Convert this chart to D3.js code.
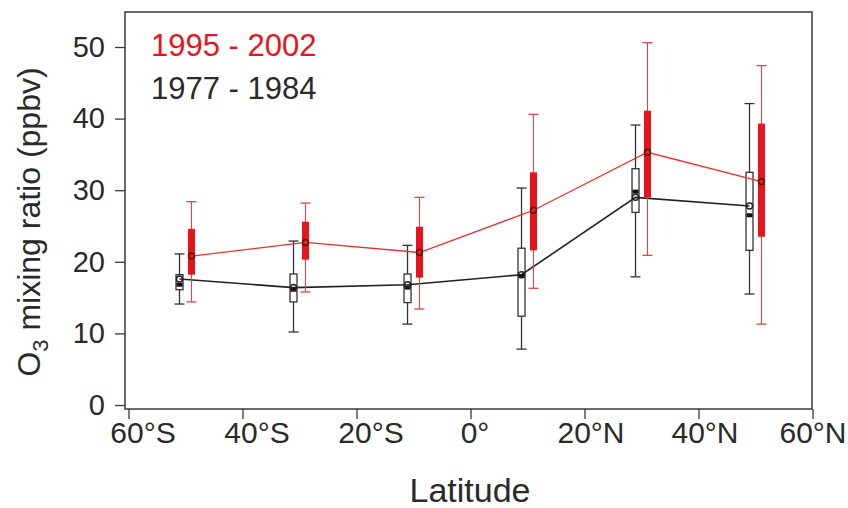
<!DOCTYPE html>
<html><head><meta charset="utf-8">
<script src="https://cdn.jsdelivr.net/npm/d3@7"></script>
<style>
html,body{margin:0;padding:0;background:#fff;}
svg{display:block;font-family:"Liberation Sans",Arial,sans-serif;}
</style></head>
<body><svg id="c" width="848" height="508"></svg>
<script>
// ---- data ----
const latitudes = [-50, -30, -10, 10, 30, 50];
const xTickValues = [-60, -40, -20, 0, 20, 40, 60];
const xTickLabels = ["60°S", "40°S", "20°S", "0°", "20°N", "40°N", "60°N"];
const yTickValues = [0, 10, 20, 30, 40, 50];
const seriesNames = ["1995 - 2002", "1977 - 1984"];

// 1977 - 1984 (black)
const oldMean   = [17.6, 16.4, 16.8, 18.2, 29.0, 27.8];
const oldMedian = [16.8, 16.1, 16.4, 18.0, 29.8, 26.5];
const oldQ1     = [16.1, 14.4, 14.3, 12.4, 26.9, 21.6];
const oldQ3     = [18.2, 18.3, 18.3, 21.9, 33.0, 32.5];
const oldMin    = [14.1, 10.2, 11.3,  7.8, 17.9, 15.5];
const oldMax    = [21.1, 22.9, 22.3, 30.3, 39.1, 42.1];

// 1995 - 2002 (red)
const newMean   = [20.8, 22.7, 21.3, 27.2, 35.3, 31.2];
const newQ1     = [18.2, 20.3, 17.8, 21.6, 29.0, 23.5];
const newQ3     = [24.6, 25.6, 24.9, 32.5, 41.1, 39.3];
const newMin    = [14.4, 15.8, 13.4, 16.3, 20.9, 11.3];
const newMax    = [28.4, 28.2, 29.0, 40.6, 50.6, 47.4];

// ---- layout ----
const svg = d3.select("#c");
const frame = {left: 125, right: 812, top: 12, bottom: 409};
const x = d3.scaleLinear().domain([-60, 60]).range([128.5, 812.5]);
const y = d3.scaleLinear().domain([0, 50]).range([405, 47]);
const off = 1.05; // degrees offset of each series from the group centre
const textCol = "#2a2a2a";
const red = "#e8141b";
const labelShift = [14, 14, 14, 4, 6, 6, 0];

// frame
svg.append("rect").attr("x", frame.left).attr("y", frame.top)
  .attr("width", frame.right - frame.left).attr("height", frame.bottom - frame.top)
  .attr("fill", "none").attr("stroke", "#3a3a3a").attr("stroke-width", 1.5);

// y axis
const yAxis = d3.axisLeft(y).tickValues(yTickValues).tickSize(10).tickPadding(10);
const gy = svg.append("g").attr("transform", `translate(${frame.left},0)`).call(yAxis);
gy.select(".domain").remove();
gy.selectAll("line").attr("stroke", "#3a3a3a").attr("stroke-width", 1.3);
gy.selectAll("text").attr("font-size", 29).attr("fill", textCol)
  .attr("font-family", "Liberation Sans, Arial, sans-serif");

// x axis
const xAxis = d3.axisBottom(x).tickValues(xTickValues)
  .tickFormat((d, i) => xTickLabels[i]).tickSize(10).tickPadding(3);
const gx = svg.append("g").attr("transform", `translate(0,${frame.bottom})`).call(xAxis);
gx.select(".domain").remove();
gx.selectAll("line").attr("stroke", "#3a3a3a").attr("stroke-width", 1.3);
gx.selectAll("text").attr("font-size", 30).attr("fill", textCol)
  .attr("font-family", "Liberation Sans, Arial, sans-serif")
  .attr("dx", (d, i) => labelShift[i]);

// axis titles
svg.append("text").attr("x", 470).attr("y", 502).attr("text-anchor", "middle")
  .attr("font-size", 34).attr("fill", textCol).text("Latitude");
const yl = svg.append("text").attr("transform", "translate(40,222) rotate(-90)")
  .attr("text-anchor", "middle").attr("font-size", 32).attr("fill", textCol);
yl.append("tspan").text("O");
yl.append("tspan").attr("font-size", 22).attr("dy", 8).text("3");
yl.append("tspan").attr("dy", -8).text(" mixing ratio (ppbv)");

// legend
svg.append("text").attr("x", 151).attr("y", 56).attr("font-size", 31)
  .attr("fill", red).text(seriesNames[0]);
svg.append("text").attr("x", 151).attr("y", 99).attr("font-size", 31)
  .attr("fill", textCol).text(seriesNames[1]);

const oldData = latitudes.map((lat, i) => ({lat: lat - off, mean: oldMean[i], med: oldMedian[i],
  q1: oldQ1[i], q3: oldQ3[i], min: oldMin[i], max: oldMax[i]}));
const newData = latitudes.map((lat, i) => ({lat: lat + off, mean: newMean[i],
  q1: newQ1[i], q3: newQ3[i], min: newMin[i], max: newMax[i]}));

const line = d3.line().x(d => x(d.lat)).y(d => y(d.mean));

function whiskers(data, col, sw) {
  const g = svg.append("g");
  data.forEach(d => {
    const cx = x(d.lat);
    g.append("line").attr("x1", cx).attr("x2", cx).attr("y1", y(d.min)).attr("y2", y(d.max))
      .attr("stroke", col).attr("stroke-width", sw);
    [d.min, d.max].forEach(v => g.append("line").attr("x1", cx - 5).attr("x2", cx + 5)
      .attr("y1", y(v)).attr("y2", y(v)).attr("stroke", col).attr("stroke-width", 1.3));
  });
}

// black (1977-1984) series
whiskers(oldData, "#333", 1.3);
oldData.forEach(d => {
  const cx = x(d.lat);
  svg.append("rect").attr("x", cx - 3.5).attr("y", y(d.q3)).attr("width", 7)
    .attr("height", y(d.q1) - y(d.q3)).attr("fill", "#fff").attr("stroke", "#333").attr("stroke-width", 1.3);
});
svg.append("path").datum(oldData).attr("d", line).attr("fill", "none")
  .attr("stroke", "#222").attr("stroke-width", 1.6);
oldData.forEach(d => {
  const cx = x(d.lat);
  svg.append("rect").attr("x", cx - 3).attr("y", y(d.med) - 2).attr("width", 6).attr("height", 4).attr("fill", "#111");
  svg.append("circle").attr("cx", cx).attr("cy", y(d.mean)).attr("r", 3)
    .attr("fill", "none").attr("stroke", "#222").attr("stroke-width", 1.5);
});

// red (1995-2002) series
whiskers(newData, "#e8413f", 1.1);
newData.forEach(d => {
  const cx = x(d.lat);
  svg.append("rect").attr("x", cx - 3.5).attr("y", y(d.q3)).attr("width", 7)
    .attr("height", y(d.q1) - y(d.q3)).attr("fill", red);
});
svg.append("path").datum(newData).attr("d", line).attr("fill", "none")
  .attr("stroke", "#e8302f").attr("stroke-width", 1.3);
newData.forEach(d => {
  svg.append("circle").attr("cx", x(d.lat)).attr("cy", y(d.mean)).attr("r", 3)
    .attr("fill", "none").attr("stroke", "#5a1010").attr("stroke-width", 1.4);
});
</script></body></html>
